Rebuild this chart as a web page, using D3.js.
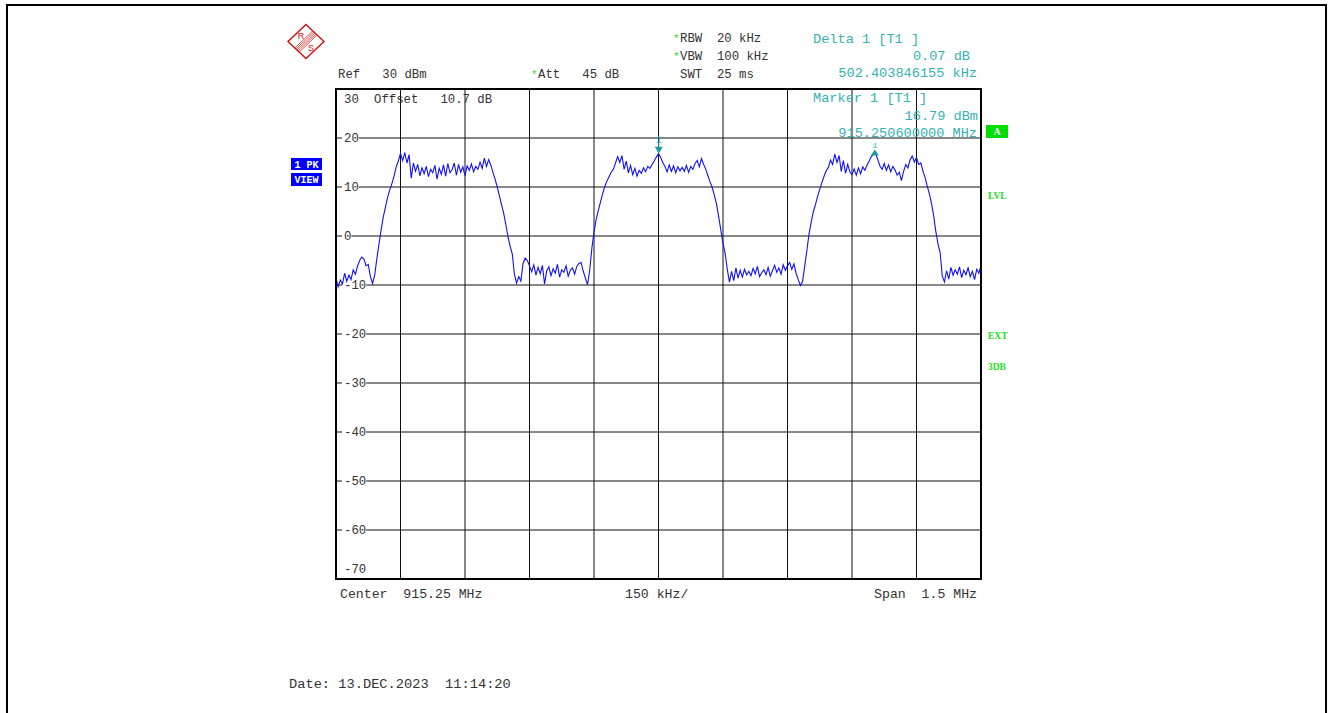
<!DOCTYPE html>
<html><head><meta charset="utf-8">
<script src="https://cdn.jsdelivr.net/npm/d3@7"></script>
<style>
html,body{margin:0;padding:0;background:#fff;}
svg text{white-space:pre;}
</style></head>
<body>
<svg id="chart" width="1332" height="713"></svg>
<script>
// ---------- data ----------
const startFreqMHz = 914.5;
const stopFreqMHz = 916.0;
const centerFreqMHz = 915.25;
const refLevel = 30;
const bottomLevel = -70;
const yTickValues = [30, 20, 10, 0, -10, -20, -30, -40, -50, -60, -70];
const xDivisions = [914.5,914.65,914.8,914.95,915.1,915.25,915.4,915.55,915.7,915.85,916.0];
// trace levels (dBm), 301 sweep points from 914.5 to 916.0 MHz
const traceLevels = [
-8.6,-10.4,-9.0,-9.8,-7.6,-9.2,-8.0,-8.9,-6.9,-7.8,
-6.2,-5.0,-4.3,-4.7,-6.1,-5.8,-8.3,-9.7,-8.0,-4.6,
-1.6,1.3,3.9,5.9,7.9,9.4,10.7,12.2,14.1,15.3,
16.9,15.4,17.0,14.9,16.6,11.8,14.9,13.2,14.6,12.3,
13.9,12.7,14.2,12.1,13.6,12.9,14.4,11.6,13.8,12.6,
14.5,12.2,14.8,12.9,13.5,14.9,12.4,14.6,13.0,14.1,
12.3,14.3,13.4,14.7,13.1,14.2,13.6,15.1,13.8,15.9,
14.2,15.6,14.5,13.0,11.6,10.0,8.2,6.4,4.6,2.3,
-0.2,-2.1,-3.7,-7.9,-9.6,-8.3,-9.2,-5.6,-4.5,-5.0,
-6.1,-7.3,-5.9,-8.0,-6.4,-7.7,-6.0,-9.8,-7.1,-6.3,
-8.1,-6.7,-7.6,-5.8,-8.4,-6.9,-7.4,-6.1,-8.2,-7.0,
-6.5,-7.8,-6.2,-5.6,-5.4,-7.2,-8.6,-9.9,-7.0,-2.5,
0.8,3.4,5.2,6.9,8.6,10.1,11.2,12.1,13.0,13.6,
14.9,16.2,15.0,16.4,13.6,15.3,12.9,14.4,12.5,13.8,
12.2,13.4,12.8,13.9,13.1,14.2,13.8,14.6,15.3,16.1,
16.8,16.0,15.0,14.2,13.1,14.5,13.2,14.3,12.9,14.1,
13.3,14.0,13.2,14.4,13.0,14.2,13.6,14.8,15.4,14.1,
15.8,14.6,13.6,12.3,11.0,9.9,8.3,6.5,3.9,1.2,
-1.5,-3.6,-6.8,-9.4,-7.2,-9.1,-6.5,-8.6,-7.0,-8.4,
-6.8,-7.9,-7.2,-8.1,-6.6,-7.7,-6.2,-8.3,-7.5,-6.9,
-7.9,-6.4,-8.2,-7.1,-6.0,-7.4,-6.5,-7.8,-5.9,-7.0,
-6.1,-5.4,-6.8,-5.7,-7.6,-8.9,-10.1,-9.3,-6.2,-3.0,
0.4,2.8,4.9,6.4,8.1,9.5,10.9,12.2,13.3,14.0,
15.5,14.6,16.7,15.0,16.4,13.2,15.4,12.8,14.6,13.1,
12.5,13.7,12.4,13.9,12.7,14.1,13.4,14.5,15.3,16.2,
16.7,16.8,15.6,14.3,13.6,14.8,13.4,14.5,13.1,14.2,
13.5,12.4,13.0,11.3,13.2,14.6,13.9,15.5,16.3,15.1,
16.0,14.6,14.9,13.3,11.9,10.2,8.6,6.6,4.1,0.9,
-1.6,-3.4,-8.2,-9.4,-7.1,-8.8,-6.4,-8.0,-6.9,-7.8,
-6.3,-8.5,-7.0,-7.9,-6.5,-8.3,-7.2,-8.9,-6.8,-7.6,
-6.0
];
const markerFreqs = [915.2506, 915.753];
const markerLevels = [16.79, 16.86];
const markerTypes = ["normal", "delta"];

// ---------- layout ----------
const svg = d3.select("#chart");
const plot = {left: 336, right: 981, top: 89, bottom: 579};
const x = d3.scaleLinear().domain([startFreqMHz, stopFreqMHz]).range([plot.left, plot.right]);
const y = d3.scaleLinear().domain([bottomLevel, refLevel]).range([plot.bottom, plot.top]);
const mono = "'Liberation Mono','DejaVu Sans Mono',monospace";
const grey = "#333";
const teal = "#33b3b3";
const green = "#22dd22";

// outer frame
svg.append("path").attr("d", "M7,720 L7,5 L1326,5 L1326,720")
  .attr("fill", "none").attr("stroke", "#000").attr("stroke-width", 2);

// grid
const g = svg.append("g");
g.selectAll("line.v").data(xDivisions.slice(1, -1)).enter().append("line")
  .attr("x1", d => x(d)).attr("x2", d => x(d)).attr("y1", plot.top).attr("y2", plot.bottom)
  .attr("stroke", "#111").attr("stroke-width", 1);
g.selectAll("line.h").data(yTickValues.slice(1, -1)).enter().append("line")
  .attr("x1", plot.left).attr("x2", plot.right).attr("y1", d => y(d)).attr("y2", d => y(d))
  .attr("stroke", "#111").attr("stroke-width", 1);

// y tick labels (with white background)
const yl = svg.append("g");
yTickValues.forEach(v => {
  let cy = y(v);
  if (v === refLevel) cy = plot.top + 10;
  if (v === bottomLevel) cy = plot.bottom - 10;
  const label = String(v);
  if (v !== refLevel && v !== bottomLevel) {
    yl.append("rect").attr("x", 342).attr("y", cy - 5).attr("width", label.length * 7.4 + 2).attr("height", 10).attr("fill", "#fff");
  }
  yl.append("text").attr("x", 344).attr("y", cy + 3.6).text(label)
    .attr("font-family", mono).attr("font-size", 12.3).attr("fill", grey);
});

// inside-plot offset text
svg.append("text").attr("x", 374).attr("y", 103).text("Offset   10.7 dB")
  .attr("font-family", mono).attr("font-size", 12.3).attr("fill", grey);

// trace
svg.append("clipPath").attr("id", "clip").append("rect")
  .attr("x", plot.left).attr("y", plot.top).attr("width", plot.right - plot.left).attr("height", plot.bottom - plot.top);
const step = (stopFreqMHz - startFreqMHz) / (traceLevels.length - 1);
const line = d3.line().x((d, i) => x(startFreqMHz + i * step)).y(d => y(d));
svg.append("path").datum(traceLevels).attr("d", line).attr("clip-path", "url(#clip)")
  .attr("fill", "none").attr("stroke", "#1010ff").attr("stroke-width", 1.1);

// plot frame
svg.append("rect").attr("x", plot.left).attr("y", plot.top)
  .attr("width", plot.right - plot.left).attr("height", plot.bottom - plot.top)
  .attr("fill", "none").attr("stroke", "#000").attr("stroke-width", 2);

// markers
markerFreqs.forEach((f, i) => {
  const mx = x(f), my = y(markerLevels[i]);
  if (markerTypes[i] === "normal") {
    svg.append("path").attr("d", `M${mx - 4},${my - 7} L${mx + 4},${my - 7} L${mx},${my} Z`).attr("fill", "#1a9e9e");
    svg.append("line").attr("x1", mx).attr("x2", mx).attr("y1", my - 11).attr("y2", my - 7).attr("stroke", "#1a9e9e");
    svg.append("text").attr("x", mx).attr("y", my - 11).attr("text-anchor", "middle").text("1")
      .attr("font-family", mono).attr("font-size", 10).attr("fill", teal);
  } else {
    svg.append("path").attr("d", `M${mx - 4},${my + 2} L${mx + 4},${my + 2} L${mx},${my - 4} Z`).attr("fill", "#1a9e9e");
    svg.append("text").attr("x", mx).attr("y", my - 5).attr("text-anchor", "middle").text("1")
      .attr("font-family", mono).attr("font-size", 8).attr("fill", teal);
  }
});

// header texts
function txt(str, xx, yy, opts = {}) {
  return svg.append("text").attr("x", xx).attr("y", yy).text(str)
    .attr("xml:space", "preserve")
    .attr("font-family", opts.family || mono).attr("font-size", opts.size || 12.3)
    .attr("fill", opts.color || grey).attr("text-anchor", opts.anchor || "start")
    .attr("font-weight", opts.weight || "normal");
}
txt("Ref   30 dBm", 338, 78);
txt("Att   45 dB", 538, 78);
txt("RBW  20 kHz", 680, 42);
txt("VBW  100 kHz", 680, 60);
txt("SWT  25 ms", 680, 78);
txt("*", 531, 78, {color: green, size: 11});
txt("*", 673, 42, {color: green, size: 11});
txt("*", 673, 60, {color: green, size: 11});

txt("Delta 1 [T1 ]", 813, 43, {color: teal, size: 13.6});
txt("0.07 dB", 970, 60, {color: teal, size: 13.6, anchor: "end"});
txt("502.403846155 kHz", 977, 77, {color: teal, size: 13.6, anchor: "end"});
txt("Marker 1 [T1 ]", 813, 102, {color: teal, size: 13.6});
txt("16.79 dBm", 978, 120, {color: teal, size: 13.6, anchor: "end"});
txt("915.250600000 MHz", 977, 137, {color: teal, size: 13.6, anchor: "end"});

txt("Center  " + centerFreqMHz + " MHz", 340, 598, {size: 13.2});
txt("150 kHz/", 625, 598, {size: 13.2});
txt("Span  " + (stopFreqMHz - startFreqMHz) + " MHz", 977, 598, {size: 13.2, anchor: "end"});
txt("Date: 13.DEC.2023  11:14:20", 289, 688, {size: 13.7});

// side labels
svg.append("rect").attr("x", 291).attr("y", 158).attr("width", 31).attr("height", 12).attr("fill", "#0000ff");
svg.append("rect").attr("x", 291).attr("y", 173).attr("width", 31).attr("height", 13).attr("fill", "#0000ff");
txt("1 PK", 306.5, 168, {color: "#fff", size: 10, anchor: "middle", weight: "bold"});
txt("VIEW", 306.5, 183, {color: "#fff", size: 10, anchor: "middle", weight: "bold"});

svg.append("rect").attr("x", 986).attr("y", 125).attr("width", 22).attr("height", 13).attr("fill", "#00dd00");
txt("A", 997, 135, {color: "#fff", size: 10, anchor: "middle", weight: "bold", family: "'Liberation Serif',serif"});
txt("LVL", 988, 199, {color: green, size: 9.5, weight: "bold", family: "'Liberation Serif',serif"});
txt("EXT", 988, 339, {color: green, size: 9.5, weight: "bold", family: "'Liberation Serif',serif"});
txt("3DB", 988, 370, {color: green, size: 9.5, weight: "bold", family: "'Liberation Serif',serif"});

// R&S logo
const logo = svg.append("g").attr("transform", "translate(306,41.5)");
const red = "#d01010";
logo.append("path").attr("d", "M0,-17 L18,0 L0,17 L-18,0 Z").attr("fill", "#fff").attr("stroke", red).attr("stroke-width", 1.4);
[-3, -1.5, 0, 1.5, 3].forEach(o => {
  const nx = 0.69 * o, ny = 0.73 * o;
  logo.append("line").attr("x1", 8.6 + nx).attr("y1", -8.2 + ny).attr("x2", -8.6 + nx).attr("y2", 8.2 + ny)
    .attr("stroke", red).attr("stroke-width", 0.7);
});
logo.append("text").attr("x", -5).attr("y", -2.5).attr("text-anchor", "middle").text("R")
  .attr("font-family", "'Liberation Sans',sans-serif").attr("font-size", 9).attr("fill", red);
logo.append("text").attr("x", 5).attr("y", 9.5).attr("text-anchor", "middle").text("S")
  .attr("font-family", "'Liberation Sans',sans-serif").attr("font-size", 9).attr("fill", red);
</script>
</body></html>
